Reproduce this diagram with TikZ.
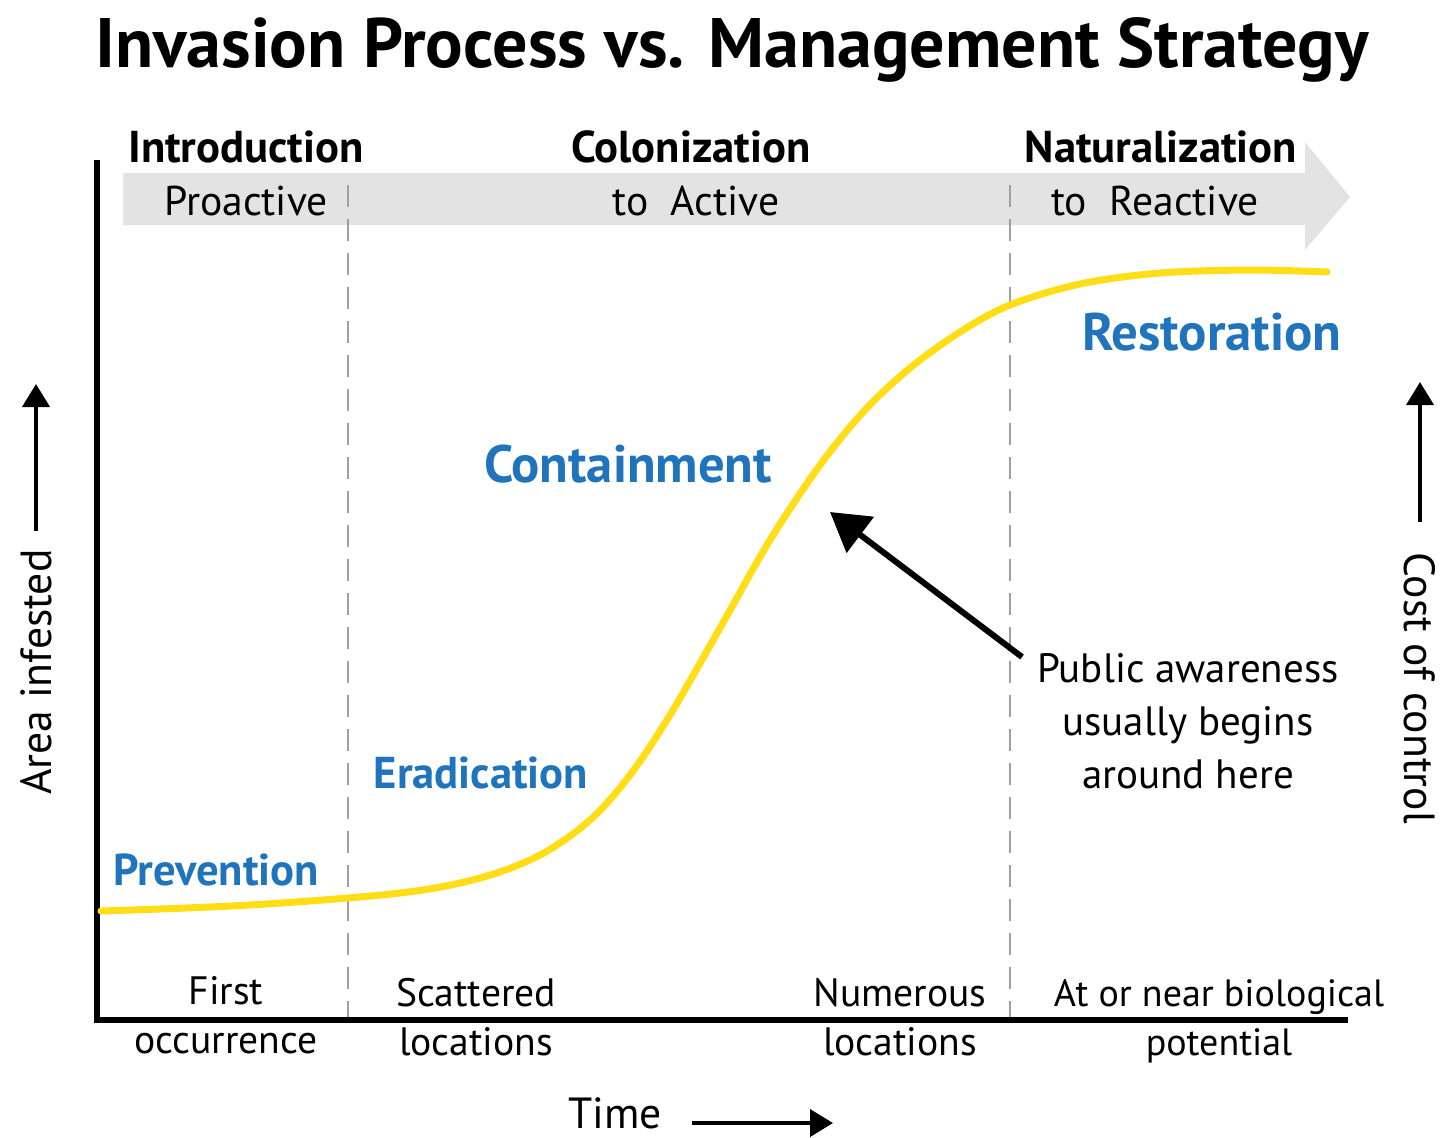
\documentclass[tikz,border=0pt]{standalone}
\usepackage{fontspec}
\setmainfont{PT Sans}
\usetikzlibrary{arrows.meta}
\definecolor{stratblue}{RGB}{31,116,187}
\definecolor{curveyellow}{RGB}{255,221,23}
\definecolor{bandgray}{RGB}{227,227,227}
\definecolor{dashgray}{RGB}{160,160,160}
\newcommand{\fsz}[2]{\fontsize{#1}{#2}\selectfont}
\begin{document}
\begin{tikzpicture}[x=0.5pt, y=-0.5pt, line join=round,
  every node/.style={inner sep=0pt, outer sep=0pt},
  heading/.style={font=\bfseries\fsz{22.3}{26}, anchor=base},
  approach/.style={font=\fsz{20.8}{26}, anchor=base},
  strategy/.style={font=\bfseries\fsz{#1}{26}, text=stratblue, anchor=base},
  locnote/.style={font=\fsz{19.8}{24.5}, align=center, anchor=base},
  axistext/.style={font=\fsz{21.8}{26}},
  smallarrow/.style={line width=2pt, -{Triangle[length=11.5pt, width=13.5pt]}},
  pointer/.style={line width=3pt, -{Triangle[length=19pt, width=22pt]}}]
\useasboundingbox (0,0) rectangle (1444,1137);
\def\xa{348} \def\xb{1010} % stage borders

% wide grey arrow behind the stages
\fill[bandgray] (123,173) -- (1305,173) -- (1305,142) -- (1350,197) -- (1305,250) -- (1305,225) -- (123,225) -- cycle;
\foreach \x in {\xa,\xb}
  \draw[dashgray, line width=1pt, dash pattern=on 11pt off 6pt] (\x,185) -- (\x,1020);

% axes
\draw[line width=3pt, line join=miter] (97,160) -- (97,1020) -- (1348,1020);

% invasion curve
\draw[curveyellow, line width=3.5pt, line cap=round] plot[smooth, tension=0.55] coordinates {(101,911) (250,905) (400,893) (480,878) (540,855) (590,820) (630,775) (670,715) (720,628) (770,540) (820,465) (865,410) (910,368) (960,332) (1010,305) (1080,284) (1160,273) (1250,270) (1327,272)};

\node[font=\bfseries\fsz{35}{40}, anchor=base] (title) at (732,67) {Invasion Process vs. Management Strategy};

\node[heading] (intro) at (246,162) {Introduction};
\node[heading] (colon) at (691,162) {Colonization};
\node[heading] (natur) at (1161,162) {Naturalization};
\node[approach] (proact) at (246,215) {Proactive};
\node[approach] (active) at (696,215) {to\ \ Active};
\node[approach] (react) at (1155,215) {to\ \ Reactive};

\node[strategy=22.3] (prev) at (216,885) {Prevention};
\node[strategy=22.3] (erad) at (481,788) {Eradication};
\node[strategy=26.3] (cont) at (628,482) {Containment};
\node[strategy=26.4] (rest) at (1212,350) {Restoration};

\node[locnote, font=\fsz{20.5}{26.5}] (aware) at (1188,788) {Public awareness\\usually begins\\around here};
\coordinate (awtail) at (1022,657);
\coordinate (awtip) at (830,512);
\draw[pointer] (awtail) -- (awtip);

\node[locnote] (first) at (226,1053) {First\\occurrence};
\node[locnote] (scatt) at (476,1055) {Scattered\\locations};
\node[locnote] (numer) at (900,1055) {Numerous\\locations};
\node[locnote, font=\fsz{19}{24.5}] (bio) at (1219,1055) {At or near biological\\potential};

\node[axistext, anchor=base] (time) at (615,1128) {Time};
\coordinate (timetip) at (833,1123);
\draw[smallarrow] ([xshift=15pt]time.east |- timetip) -- (timetip);

\node[axistext, rotate=90] (area) at (36,672) {Area infested};
\coordinate (areatip) at (36,384);
\draw[smallarrow] ([yshift=9pt]area.east) -- (areatip);

\node[axistext, rotate=-90] (cost) at (1420,688) {Cost of control};
\coordinate (costtip) at (1420,382);
\draw[smallarrow] ([yshift=15pt]cost.west) -- (costtip);
\end{tikzpicture}
\end{document}
